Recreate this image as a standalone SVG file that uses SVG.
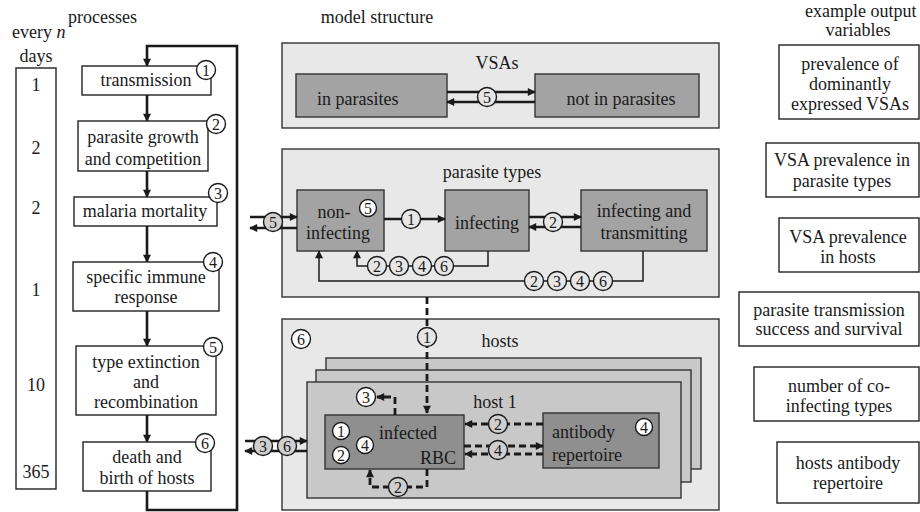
<svg xmlns="http://www.w3.org/2000/svg" width="920" height="512" viewBox="0 0 920 512" font-family="'Liberation Serif', 'Times New Roman', Times, Tinos, 'Nimbus Roman', 'Noto Serif', 'DejaVu Serif', serif">
<defs>
<marker id="ah" viewBox="0 0 10 10" refX="9" refY="5" markerWidth="9" markerHeight="8" markerUnits="userSpaceOnUse" orient="auto">
<path d="M0,0 L10,5 L0,10 z" fill="#1a1a1a"/>
</marker>
</defs>
<style>
text{font-family:'Liberation Serif','Times New Roman',Times,Tinos,'Nimbus Roman','Noto Serif','DejaVu Serif',serif;font-size:18px;fill:#1a1a1a}
.c{text-anchor:middle}
.box{fill:#fff;stroke:#222;stroke-width:1.4}
.outer{fill:#e8e8e8;stroke:#333;stroke-width:1.4}
.dark{fill:#a3a3a3;stroke:#333;stroke-width:1.4}
.darker{fill:#8f8f8f;stroke:#333;stroke-width:1.4}
.card{fill:#c8c8c8;stroke:#333;stroke-width:1.4}
.thick{fill:none;stroke:#1a1a1a;stroke-width:2.6}
.thin{fill:none;stroke:#1a1a1a;stroke-width:1.5}
.dash{fill:none;stroke:#1a1a1a;stroke-width:2.8;stroke-dasharray:7 4}
.arr{marker-end:url(#ah)}
.cw{fill:#fff;stroke:#1a1a1a;stroke-width:1.4}
.cg{fill:#e6e6e6;stroke:#1a1a1a;stroke-width:1.4}
.ch{fill:#cfcfcf;stroke:#1a1a1a;stroke-width:1.4}
.n{font-size:16px;text-anchor:middle}
</style>

<!-- headers -->
<text x="68" y="23">processes</text>
<text x="12" y="38">every <tspan font-style="italic">n</tspan></text>
<text x="36" y="62" class="c">days</text>
<text x="377" y="23" class="c">model structure</text>
<text x="805" y="17">example output</text>
<text x="858" y="36" class="c">variables</text>

<!-- days column -->
<g id="days">
<rect x="16" y="68" width="40" height="421" class="box"/>
<text x="36" y="91" class="c">1</text>
<text x="36" y="154" class="c">2</text>
<text x="36" y="214" class="c">2</text>
<text x="36" y="296" class="c">1</text>
<text x="36" y="391" class="c">10</text>
<text x="36" y="478" class="c">365</text>
</g>

<!-- connectors -->
<g id="connectors">
<path d="M147,95 V121" class="thick arr"/>
<path d="M147,171 V197" class="thick arr"/>
<path d="M147,226 V262" class="thick arr"/>
<path d="M147,311 V346" class="thick arr"/>
<path d="M147,415 V442" class="thick arr"/>
<path d="M147,491 V510 H237 V46 H147 V66" class="thick arr"/>
</g>

<!-- process boxes -->
<g id="p1">
<rect x="82" y="66" width="129" height="29" class="box"/>
<text x="146" y="86" class="c">transmission</text>
<circle cx="206" cy="70" r="9.5" class="cw"/><text x="206" y="75.5" class="n">1</text>
</g>
<g id="p2">
<rect x="78" y="121" width="130" height="50" class="box"/>
<text x="143" y="143" class="c">parasite growth</text>
<text x="143" y="165" class="c">and competition</text>
<circle cx="216" cy="124" r="9.5" class="cw"/><text x="216" y="129.5" class="n">2</text>
</g>
<g id="p3">
<rect x="74" y="197" width="143" height="29" class="box"/>
<text x="145" y="217" class="c">malaria mortality</text>
<circle cx="218" cy="193" r="9.5" class="cw"/><text x="218" y="198.5" class="n">3</text>
</g>
<g id="p4">
<rect x="73" y="262" width="146" height="49" class="box"/>
<text x="146" y="283" class="c">specific immune</text>
<text x="146" y="303" class="c">response</text>
<circle cx="213" cy="262" r="9.5" class="cw"/><text x="213" y="267.5" class="n">4</text>
</g>
<g id="p5">
<rect x="76" y="346" width="140" height="69" class="box"/>
<text x="146" y="368" class="c">type extinction</text>
<text x="146" y="388" class="c">and</text>
<text x="146" y="408" class="c">recombination</text>
<circle cx="213" cy="347" r="9.5" class="cw"/><text x="213" y="352.5" class="n">5</text>
</g>
<g id="p6">
<rect x="83" y="442" width="128" height="49" class="box"/>
<text x="147" y="463" class="c">death and</text>
<text x="147" y="484" class="c">birth of hosts</text>
<circle cx="205" cy="443" r="9.5" class="cw"/><text x="205" y="448.5" class="n">6</text>
</g>

<!-- VSAs -->
<g id="vsas">
<rect x="282" y="43" width="437" height="85" class="outer"/>
<text x="497" y="69" class="c">VSAs</text>
<rect x="296" y="74" width="151" height="43" class="dark"/>
<text x="317" y="105">in parasites</text>
<rect x="535" y="74" width="164" height="43" class="dark"/>
<text x="621" y="105" class="c">not in parasites</text>
<path d="M447,92 H535" class="thick arr"/>
<path d="M535,102 H447" class="thick arr"/>
<circle cx="487" cy="97" r="9.5" class="cg"/><text x="487" y="102.5" class="n">5</text>
</g>

<!-- parasite types -->
<g id="parasite-types">
<rect x="282" y="149" width="437" height="148" class="outer"/>
<text x="492" y="178" class="c">parasite types</text>
<rect x="297" y="190" width="87" height="61" class="dark"/>
<text x="334" y="218" class="c">non-</text>
<text x="338" y="239" class="c">infecting</text>
<circle cx="368" cy="208" r="8.5" class="cw"/><text x="368" y="213.5" class="n">5</text>
<rect x="445" y="190" width="84" height="61" class="dark"/>
<text x="487" y="229" class="c">infecting</text>
<rect x="581" y="190" width="126" height="61" class="dark"/>
<text x="644" y="217" class="c">infecting and</text>
<text x="644" y="239" class="c">transmitting</text>
<path d="M250,217 H297" class="thick arr"/>
<path d="M297,228 H250" class="thick arr"/>
<circle cx="273" cy="222" r="9.5" class="ch"/><text x="273" y="227.5" class="n">5</text>
<path d="M384,219 H445" class="thick arr"/>
<circle cx="411" cy="219" r="9.5" class="cg"/><text x="411" y="224.5" class="n">1</text>
<path d="M529,217 H581" class="thick arr"/>
<path d="M581,227 H529" class="thick arr"/>
<circle cx="553" cy="222" r="9.5" class="cg"/><text x="553" y="227.5" class="n">2</text>
<path d="M488,251 V266 H357 V251" class="thin arr"/>
<circle cx="377" cy="266" r="9.5" class="cg"/><text x="377" y="271.5" class="n">2</text>
<circle cx="399" cy="266" r="9.5" class="cg"/><text x="399" y="271.5" class="n">3</text>
<circle cx="422" cy="266" r="9.5" class="cg"/><text x="422" y="271.5" class="n">4</text>
<circle cx="444" cy="266" r="9.5" class="cg"/><text x="444" y="271.5" class="n">6</text>
<path d="M643,251 V281 H319 V251" class="thin arr"/>
<circle cx="534" cy="281" r="9.5" class="cg"/><text x="534" y="286.5" class="n">2</text>
<circle cx="557" cy="281" r="9.5" class="cg"/><text x="557" y="286.5" class="n">3</text>
<circle cx="580" cy="281" r="9.5" class="cg"/><text x="580" y="286.5" class="n">4</text>
<circle cx="603" cy="281" r="9.5" class="cg"/><text x="603" y="286.5" class="n">6</text>
</g>

<!-- hosts -->
<g id="hosts">
<rect x="282" y="319" width="437" height="191" class="outer"/>
<circle cx="301" cy="339" r="9.5" class="cw"/><text x="301" y="344.5" class="n">6</text>
<text x="500" y="347" class="c">hosts</text>
<rect x="326" y="358" width="375" height="111" class="card"/>
<rect x="316" y="370" width="375" height="112" class="card"/>
<rect x="307" y="382" width="374" height="116" class="card"/>
<text x="495" y="408" class="c">host 1</text>
</g>
<g id="infected-rbc">
<rect x="325" y="415" width="139" height="54" class="darker"/>
<circle cx="341" cy="431" r="8.5" class="cw"/><text x="341" y="436.5" class="n">1</text>
<circle cx="341" cy="455" r="8.5" class="cw"/><text x="341" y="460.5" class="n">2</text>
<circle cx="365" cy="445" r="8.5" class="cw"/><text x="365" y="450.5" class="n">4</text>
<text x="408" y="439" class="c">infected</text>
<text x="456" y="464" text-anchor="end">RBC</text>
</g>
<g id="antibody">
<rect x="543" y="413" width="116" height="55" class="darker"/>
<text x="552" y="438">antibody</text>
<text x="552" y="461">repertoire</text>
<circle cx="644" cy="427" r="8.5" class="cw"/><text x="644" y="432.5" class="n">4</text>
</g>
<g id="host-links">
<path d="M427,297 V413" class="dash arr"/>
<circle cx="427" cy="337" r="9.5" class="cg"/><text x="427" y="342.5" class="n">1</text>
<path d="M543,424 H465" class="dash arr"/>
<circle cx="498" cy="424" r="9.5" class="ch"/><text x="498" y="429.5" class="n">2</text>
<path d="M464,446 H543" class="dash arr"/>
<path d="M543,454 H465" class="dash arr"/>
<circle cx="498" cy="450" r="9.5" class="ch"/><text x="498" y="455.5" class="n">4</text>
<path d="M395,415 V397 H377" class="dash arr"/>
<circle cx="366" cy="397" r="9.5" class="cw"/><text x="366" y="402.5" class="n">3</text>
<path d="M427,469 V487 H370 V470" class="dash arr"/>
<circle cx="398" cy="487" r="9.5" class="ch"/><text x="398" y="492.5" class="n">2</text>
<path d="M245,441 H307" class="thick arr"/>
<path d="M307,451 H245" class="thick arr"/>
<circle cx="263" cy="446" r="9.5" class="ch"/><text x="263" y="451.5" class="n">3</text>
<circle cx="287" cy="446" r="9.5" class="ch"/><text x="287" y="451.5" class="n">6</text>
</g>

<!-- outputs -->
<g id="o1">
<rect x="779" y="45" width="140" height="74" class="box"/>
<text x="850" y="70" class="c">prevalence of</text>
<text x="850" y="90" class="c">dominantly</text>
<text x="850" y="110" class="c">expressed VSAs</text>
</g>
<g id="o2">
<rect x="766" y="143" width="153" height="54" class="box"/>
<text x="842" y="166" class="c">VSA prevalence in</text>
<text x="842" y="187" class="c">parasite types</text>
</g>
<g id="o3">
<rect x="779" y="218" width="140" height="54" class="box"/>
<text x="848" y="243" class="c">VSA prevalence</text>
<text x="848" y="263" class="c">in hosts</text>
</g>
<g id="o4">
<rect x="739" y="292" width="180" height="54" class="box"/>
<text x="829" y="316" class="c">parasite transmission</text>
<text x="829" y="335" class="c">success and survival</text>
</g>
<g id="o5">
<rect x="754" y="367" width="165" height="54" class="box"/>
<text x="839" y="392" class="c">number of co-</text>
<text x="839" y="412" class="c">infecting types</text>
</g>
<g id="o6">
<rect x="777" y="442" width="142" height="61" class="box"/>
<text x="848" y="469" class="c">hosts antibody</text>
<text x="848" y="489" class="c">repertoire</text>
</g>
</svg>
